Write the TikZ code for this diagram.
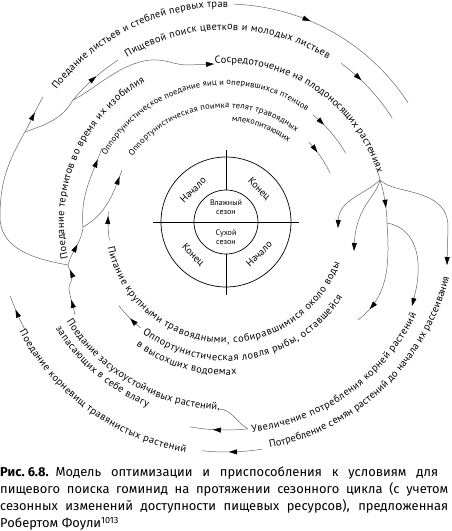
\documentclass[tikz,border=0pt]{standalone}
\usepackage{fontspec}
\setmainfont{PT Sans}
\newfontfamily\capfont{Fira Sans}
\usetikzlibrary{arrows.meta}
\usetikzlibrary{decorations.text}
\usetikzlibrary{decorations.markings}
\colorlet{flowc}{black!60}
\newcommand\arcbig{\fontsize{10.3}{12}\selectfont}
\newcommand\arcsmall{\fontsize{8.5}{10}\selectfont}

\tikzset{
  >={Triangle[length=8pt,width=5pt,color=black]},
  flowline/.style={draw=flowc, line width=0.5pt},
  arrowat/.style={postaction={decorate, decoration={markings, mark=at position #1 with {\arrow{>}}}}},
  bigtext/.style={decorate, decoration={text along path, text align=fit to path, text={|\arcbig|#1}}},
  smalltext/.style={decorate, decoration={text along path, text align=fit to path, text={|\arcsmall|#1}}},
  season/.style={font=\fontsize{8}{9}\selectfont, align=center, inner sep=0pt},
  phase/.style={font=\fontsize{10}{12}\selectfont, inner sep=0pt},
}

\begin{document}
\begin{tikzpicture}[x=1pt, y=1pt]
\useasboundingbox (-226,-309) rectangle (226,222);

% seasons in the middle
\draw[line width=0.7pt] (0,0) circle[radius=32pt];
\draw[line width=0.7pt] (0,0) circle[radius=65pt];
\draw[line width=0.7pt] (-73,0) -- (73,0);
\draw[line width=0.7pt] (0,72) -- (0,32);
\draw[line width=0.7pt] (0,-32) -- (0,-73);
\node[season] (wet) at (0,15) {Влажный\\сезон};
\node[season] (dry) at (0,-15) {Сухой\\сезон};
\node[phase, rotate=45] (wetstart) at (-33,32) {Начало};
\node[phase, rotate=-45] (wetend) at (33,33) {Конец};
\node[phase, rotate=-45] (dryend) at (-33,-33) {Конец};
\node[phase, rotate=45] (drystart) at (33,-32) {Начало};

% junctions
\coordinate (j0) at (-158,-43);
\coordinate (s1) at (-201,90);
\coordinate (s2) at (-153,122);
\coordinate (s3) at (-143,-5);
\coordinate (j2) at (154,42);
\coordinate (s4) at (161,-1);
\coordinate (rootend) at (276:208pt);

% top of the cycle
\path[bigtext={Поедание листьев и стеблей первых трав}] (142:215pt) arc[start angle=142, end angle=89.5, radius=215pt];
\path[bigtext={Пищевой поиск цветков и молодых листьев}] (121:192pt) arc[start angle=121, end angle=58, radius=192pt];
\path[bigtext={Сосредоточение на плодоносящих растениях}] (94:159pt) arc[start angle=94, end angle=18, radius=159pt];
\path[bigtext={Поедание термитов во время их изобилия}] (193:162pt) arc[start angle=193, end angle=120, radius=162pt];
\path[smalltext={Оппортунистическое поедание яиц и оперившихся птенцов}] (151:137pt) arc[start angle=151, end angle=54, radius=137pt];
\path[smalltext={Оппортунистическая поимка телят травоядных}] (145:114pt) arc[start angle=145, end angle=52, radius=114pt];
\path[decorate, decoration={text along path, text align=right, text={|\arcsmall|млекопитающих}}] (95:101pt) arc[start angle=95, end angle=52, radius=101pt];

\draw[flowline, arrowat=0.38] (88:218pt) arc[start angle=88, end angle=33, radius=217pt];
\draw[flowline, arrowat=0.35] (54:196pt) arc[start angle=54, end angle=32, radius=196pt];
\draw[flowline, arrowat=0.3] (51:138pt) arc[start angle=51, end angle=30, radius=138pt];
\draw[flowline, arrowat=0.35] (44:115pt) arc[start angle=44, end angle=25, radius=115pt];

% left side
\draw[flowline] (j0) to[out=170, in=-90] (-226,5) to[out=90, in=240] (s1);
\draw[flowline, arrowat=0.55] (s1) to[out=62, in=240] (-183,125);
\draw[flowline] (s1) to[out=20, in=240] (s2);
\draw[flowline, arrowat=0.55] (s2) to[out=50, in=215] (-108,162);
\draw[flowline, ->] (s2) .. controls (-135,130) and (-105,160) .. (-75,162) .. controls (-60,163) and (-52,157) .. (-38,157) -- (-12,158);
\draw[flowline, arrowat=0.3, arrowat=0.9] (-151,-93) to[out=100, in=-80] (-157,-68) to[out=100, in=-90] (-154,-55) to[out=95, in=-75] (j0);
\draw[flowline, arrowat=0.55] (j0) to[out=75, in=-95] (s3);
\draw[flowline, arrowat=0.85] (s3) to[out=95, in=-110] (-124,74);
\draw[flowline, arrowat=0.9] (s3) to[out=30, in=250] (-104,52);

% right side
\draw[flowline] (151,53) -- (j2);
\draw[flowline, ->] (j2) .. controls (138,27) and (113,22) .. (112,-6);
\draw[flowline, ->] (j2) .. controls (150,25) and (130,15) .. (128,-29);
\draw[flowline, arrowat=0.65] (j2) .. controls (158,30) and (161,12) .. (s4);
\draw[flowline, arrowat=0.85] (s4) .. controls (164,-45) and (162,-75) .. (132,-98);
\draw[flowline, ->] (s4) .. controls (185,-5) and (200,-30) .. (186,-84);
\draw[flowline, ->] (j2) .. controls (168,27) and (222,35) .. (222,-5) -- (221,-43);

% bottom of the cycle
\path[bigtext={Питание крупными травоядными, собиравшимися около воды}] (192:121pt) arc[start angle=192, end angle=340, radius=121pt];
\path[bigtext={Оппортунистическая ловля рыбы, оставшейся}] (233:139pt) arc[start angle=233, end angle=327, radius=139pt];
\path[bigtext={в высохших водоемах}] (234:153pt) arc[start angle=234, end angle=274, radius=153pt];
\path[bigtext={Увеличение потребления корней растений}] (277:212pt) arc[start angle=277, end angle=334, radius=212pt];
\path[bigtext={Поедание засухоустойчивых растений,}] (212:188pt) arc[start angle=212, end angle=268, radius=188pt];
\path[bigtext={запасающих в себе влагу}] (212:201pt) arc[start angle=212, end angle=247, radius=201pt];
\path[bigtext={Поедание корневищ травянистых растений}] (208:234pt) arc[start angle=208, end angle=260, radius=234pt];
\path[bigtext={Потребление семян растений до начала их рассеивания}] (281:230pt) arc[start angle=281, end angle=346, radius=230pt];

\draw[flowline, arrowat=0.85] (189:118pt) arc[start angle=189, end angle=175, radius=118pt];
\draw[flowline, arrowat=0.45] (231:136pt) arc[start angle=231, end angle=218, radius=136pt];
\draw[flowline, arrowat=0.6] (208:228pt) arc[start angle=208, end angle=199, radius=228pt];
\draw[flowline, arrowat=0.55] (279:230pt) arc[start angle=279, end angle=264, radius=230pt];
\draw[flowline, arrowat=0.6] (rootend) arc[start angle=276, end angle=260, radius=208pt];
\draw[flowline] (rootend) to[out=150, in=0] (-8,-187);

% caption
\node[anchor=north west, inner sep=0pt, text width=448pt, align=justify, font=\capfont\fontsize{12.9}{17}\selectfont] (caption) at (-226,-245)
  {\makebox[438pt][s]{\mbox{\textbf{Рис.~6.8.}}\hspace{7pt}Модель оптимизации и приспособления к условиям для}\\
   пищевого поиска гоминид на протяжении сезонного цикла (с учетом\linebreak
   сезонных изменений доступности пищевых ресурсов), предложенная\linebreak
   Робертом Фоули\textsuperscript{1013}};
\end{tikzpicture}
\end{document}
